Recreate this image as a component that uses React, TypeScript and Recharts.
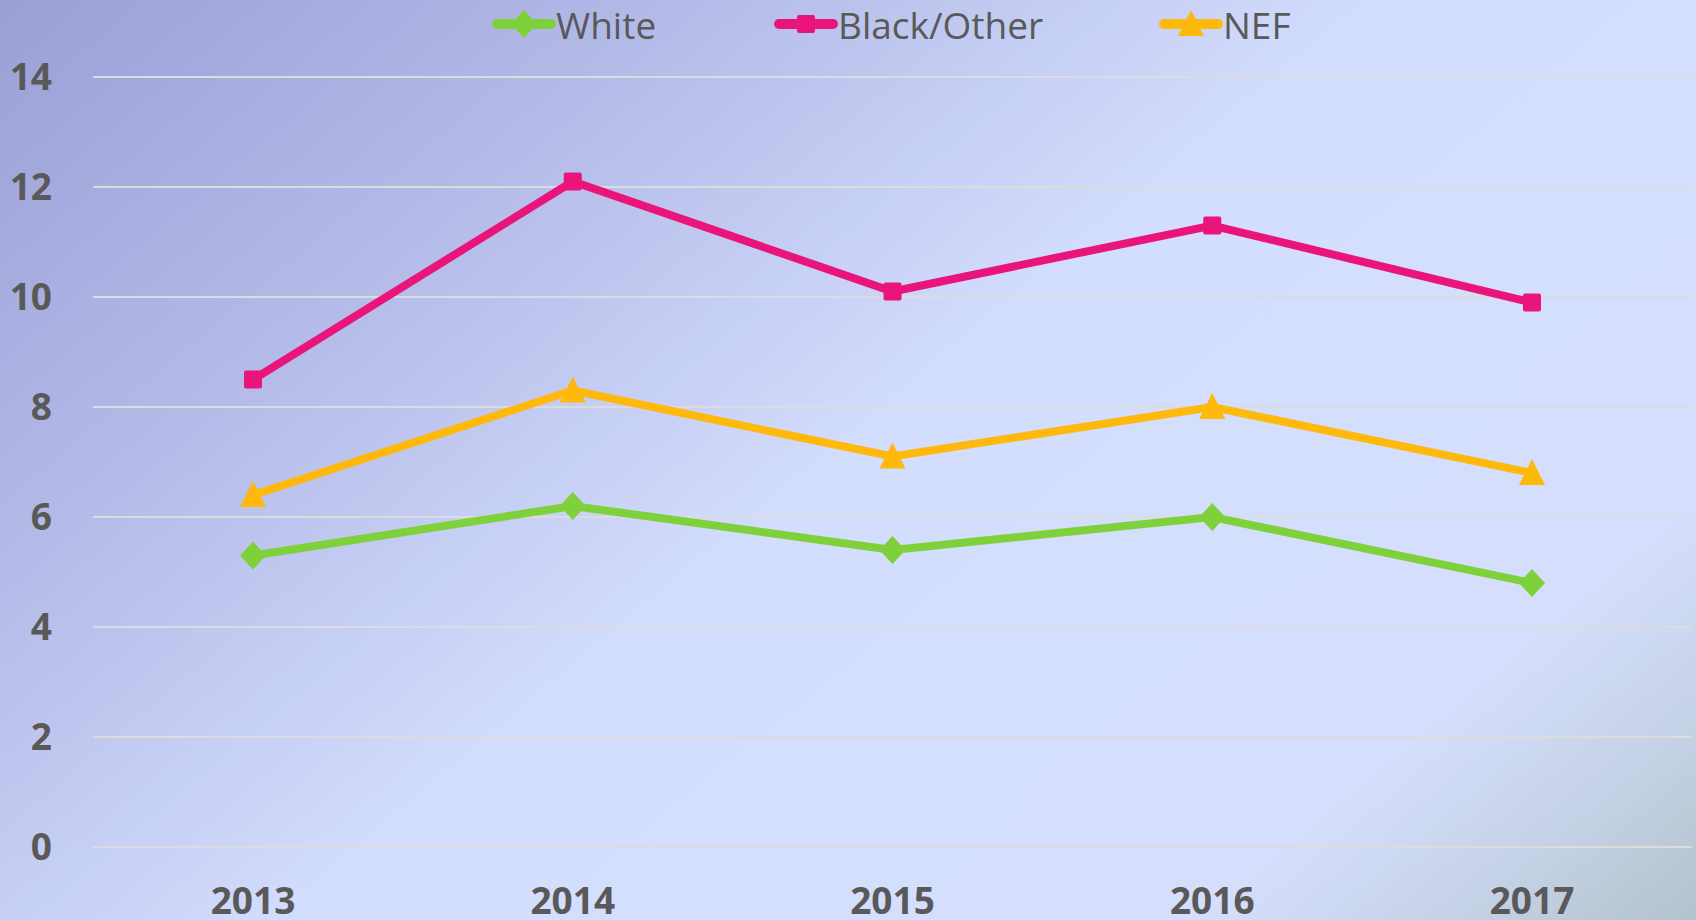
import { CartesianGrid, Legend, Line, LineChart, XAxis, YAxis } from "recharts";

const years = ["2013", "2014", "2015", "2016", "2017"];
const white = [5.3, 6.2, 5.4, 6.0, 4.8];
const blackOther = [8.5, 12.1, 10.1, 11.3, 9.9];
const nef = [6.4, 8.3, 7.1, 8.0, 6.8];
const yTicks = [0, 2, 4, 6, 8, 10, 12, 14];

const data = years.map((year, i) => ({
  year,
  white: white[i],
  blackOther: blackOther[i],
  nef: nef[i],
}));

const textColor = "#595959";
const font = "'Open Sans', sans-serif";

type Shape = "diamond" | "square" | "triangle";

function Marker({ cx, cy, shape, color }: { cx: number; cy: number; shape: Shape; color: string }) {
  if (cx == null || cy == null) return null;
  if (shape === "square") {
    return <rect x={cx - 9} y={cy - 9} width={18} height={18} rx={2} fill={color} />;
  }
  if (shape === "triangle") {
    return <polygon points={`${cx},${cy - 14} ${cx + 13},${cy + 12} ${cx - 13},${cy + 12}`} fill={color} />;
  }
  return <polygon points={`${cx},${cy - 14} ${cx + 13},${cy} ${cx},${cy + 14} ${cx - 13},${cy}`} fill={color} />;
}

const series = [
  { key: "white", name: "White", color: "#7fd13b", shape: "diamond" as Shape },
  { key: "blackOther", name: "Black/Other", color: "#ea157a", shape: "square" as Shape },
  { key: "nef", name: "NEF", color: "#ffb80c", shape: "triangle" as Shape },
];

const legendWidths = [282, 385, 140];

function LegendContent() {
  return (
    <div style={{ display: "flex", width: 1696, height: 48, paddingLeft: 492, alignItems: "center", boxSizing: "border-box" }}>
      {series.map((s, i) => (
        <div key={s.key} style={{ width: legendWidths[i], flexShrink: 0, display: "flex", alignItems: "center" }}>
          <svg width={64} height={30} style={{ flexShrink: 0 }}>
            <line x1={5} y1={15} x2={59} y2={15} stroke={s.color} strokeWidth={10} strokeLinecap="round" />
            <Marker cx={32} cy={15} shape={s.shape} color={s.color} />
          </svg>
          <span style={{ fontFamily: font, fontSize: 37, color: textColor, lineHeight: "37px", whiteSpace: "nowrap" }}>
            {s.name}
          </span>
        </div>
      ))}
    </div>
  );
}

export default function App() {
  return (
    <div
      style={{
        position: "absolute",
        left: 0,
        top: 0,
        width: 1696,
        height: 920,
        overflow: "hidden",
        background:
          "linear-gradient(140deg, #9a9fd6 0%, #b4bbe8 25%, #d3ddfd 50%, #d5dffd 82%, #c4d0e4 92%, #b3c3cc 100%)",
      }}
    >
      <LineChart width={1696} height={920} data={data} margin={{ top: 29, right: 4, bottom: 0, left: 0 }}>
        <CartesianGrid vertical={false} stroke="#dcdcdc" strokeWidth={2} />
        <XAxis
          dataKey="year"
          axisLine={false}
          tickLine={false}
          tickSize={0}
          tickMargin={41}
          height={73}
          padding={{ left: 160, right: 160 }}
          tick={{ fill: textColor, fontSize: 37, fontWeight: 700, fontFamily: font }}
        />
        <YAxis
          domain={[0, 14]}
          ticks={yTicks}
          axisLine={false}
          tickLine={false}
          tickSize={0}
          tickMargin={41}
          width={93}
          tick={{ fill: textColor, fontSize: 37, fontWeight: 700, fontFamily: font }}
        />
        <Legend verticalAlign="top" content={<LegendContent />} wrapperStyle={{ top: 0, left: 0, width: 1696 }} />
        {series.map((s) => (
          <Line
            key={s.key}
            dataKey={s.key}
            name={s.name}
            stroke={s.color}
            strokeWidth={8}
            type="linear"
            isAnimationActive={false}
            dot={(p: any) => <Marker key={`${s.key}-${p.index}`} cx={p.cx} cy={p.cy} shape={s.shape} color={s.color} />}
            activeDot={false}
          />
        ))}
      </LineChart>
    </div>
  );
}
